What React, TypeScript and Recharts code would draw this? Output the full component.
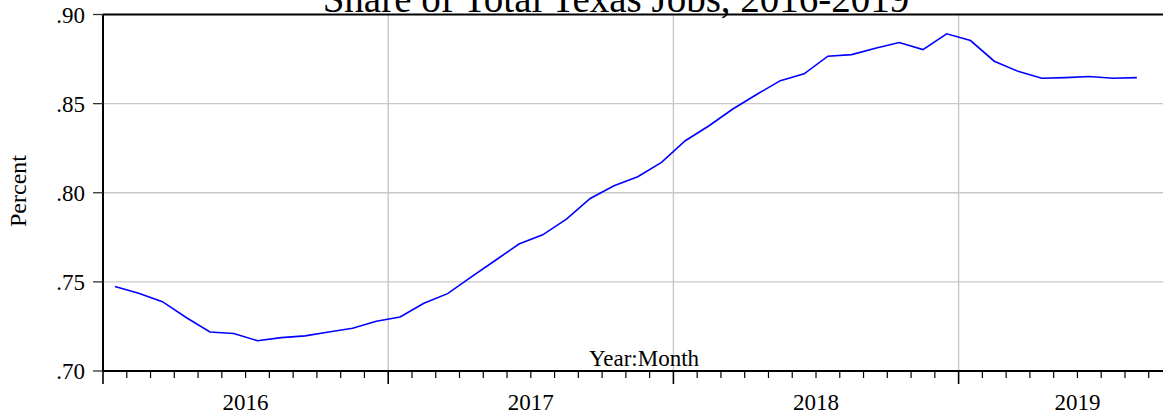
import React from 'react';
import { LineChart, Line, XAxis, YAxis, ReferenceLine } from 'recharts';

const months = [
  '2016:01', '2016:02', '2016:03', '2016:04', '2016:05', '2016:06', '2016:07', '2016:08', '2016:09', '2016:10', '2016:11', '2016:12',
  '2017:01', '2017:02', '2017:03', '2017:04', '2017:05', '2017:06', '2017:07', '2017:08', '2017:09', '2017:10', '2017:11', '2017:12',
  '2018:01', '2018:02', '2018:03', '2018:04', '2018:05', '2018:06', '2018:07', '2018:08', '2018:09', '2018:10', '2018:11', '2018:12',
  '2019:01', '2019:02', '2019:03', '2019:04', '2019:05', '2019:06', '2019:07', '2019:08',
];

const share = [
  0.7474, 0.7436, 0.7389, 0.7300, 0.7219, 0.7210, 0.7170, 0.7187, 0.7197, 0.7219, 0.7240, 0.7279,
  0.7303, 0.7380, 0.7434, 0.7528, 0.7620, 0.7712, 0.7764, 0.7852, 0.7968, 0.8039, 0.8090, 0.8170,
  0.8292, 0.8376, 0.8470, 0.8551, 0.8629, 0.8667, 0.8766, 0.8775, 0.8811, 0.8843, 0.8803, 0.8892,
  0.8854, 0.8738, 0.8681, 0.8642, 0.8646, 0.8652, 0.8642, 0.8646,
];

const yTicks = [0.70, 0.75, 0.80, 0.85, 0.90];
const gridY = [0.75, 0.80, 0.85];
const yearLabels = ['2016', '2017', '2018', '2019'];
const yearLabelPos = [6, 18, 30, 41];
const yearBounds = [12, 24, 36];
const monthTicks = Array.from({ length: 45 }, (_, i) => i);

// month i is plotted in the middle of its slot
const data = months.map((m, i) => ({ month: m, x: i + 0.5, share: share[i] }));

const FONT = '"Liberation Serif", "Times New Roman", serif';

const MonthTick: React.FC<any> = ({ x, y, payload }) => {
  const v = payload.value;
  const major = v % 12 === 0;
  const idx = yearLabelPos.indexOf(v);
  return (
    <g>
      <line x1={x} x2={x} y1={y} y2={y + (major ? 13 : 7)} stroke="#000" strokeWidth={major ? 1.6 : 1.2} />
      {idx >= 0 && (
        <text x={x} y={y + 39} textAnchor="middle" fontSize={23} fontFamily={FONT} fill="#000">
          {yearLabels[idx]}
        </text>
      )}
    </g>
  );
};

export default function App() {
  return (
    <div style={{ position: 'absolute', left: 0, top: 0, width: 1165, height: 415, background: '#fff' }}>
      <LineChart width={1165} height={415} data={data} margin={{ top: 14.5, right: 2, bottom: 0, left: 0 }}>
        <XAxis
          dataKey="x"
          type="number"
          domain={[0, 44.6]}
          ticks={monthTicks}
          interval={0}
          tick={<MonthTick />}
          tickLine={false}
          tickSize={0}
          tickMargin={0}
          height={44}
          axisLine={{ stroke: '#000', strokeWidth: 2 }}
        />
        <YAxis
          type="number"
          domain={[0.70, 0.90]}
          ticks={yTicks}
          interval={0}
          width={103}
          tickSize={10}
          tickMargin={8}
          tickFormatter={(v: number) => v.toFixed(2).replace(/^0/, '')}
          tick={{ fontSize: 23, fontFamily: FONT, fill: '#000' }}
          tickLine={{ stroke: '#333', strokeWidth: 1.3 }}
          axisLine={{ stroke: '#000', strokeWidth: 2 }}
        />
        {gridY.map((v) => (
          <ReferenceLine key={'gy' + v} y={v} stroke="#c8c8c8" strokeWidth={1.4} />
        ))}
        {yearBounds.map((v) => (
          <ReferenceLine key={'gx' + v} x={v} stroke="#c8c8c8" strokeWidth={1.4} />
        ))}
        <ReferenceLine y={0.90} stroke="#000" strokeWidth={2} />
        <Line
          type="linear"
          dataKey="share"
          stroke="#0000ff"
          strokeWidth={1.6}
          dot={false}
          isAnimationActive={false}
        />
      </LineChart>
      <svg width={1165} height={415} style={{ position: 'absolute', left: 0, top: 0, pointerEvents: 'none' }}>
        <text x={616} y={12} textAnchor="middle" fontSize={39} fontFamily={FONT} fill="#000">
          Share of Total Texas Jobs, 2016-2019
        </text>
        <text x={644} y={366} textAnchor="middle" fontSize={23} fontFamily={FONT} fill="#000">
          Year:Month
        </text>
        <text
          x={26}
          y={191}
          textAnchor="middle"
          fontSize={24}
          fontFamily={FONT}
          fill="#000"
          transform="rotate(-90 26 191)"
        >
          Percent
        </text>
      </svg>
    </div>
  );
}
